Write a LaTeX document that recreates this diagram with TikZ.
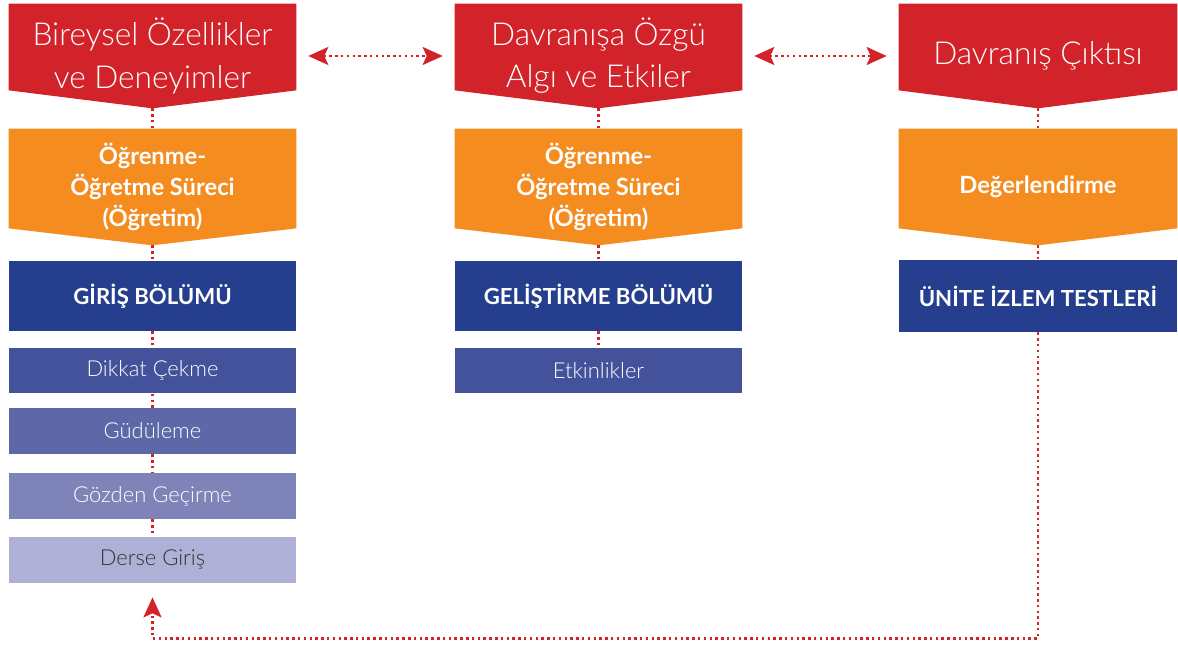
\documentclass[tikz,border=0pt]{standalone}
\usepackage{fontspec}
\setmainfont{Lato}
\newfontfamily\lightfont{Lato Light}
\usetikzlibrary{arrows.meta,backgrounds}
\definecolor{mebred}{HTML}{D2232A}
\definecolor{meborange}{HTML}{F48C20}
\definecolor{mebblue}{HTML}{253F8E}
\definecolor{subone}{HTML}{43529B}
\definecolor{subtwo}{HTML}{5E68A8}
\definecolor{subthree}{HTML}{7F84B8}
\definecolor{subfour}{HTML}{AFB0D5}
\begin{document}
\begin{tikzpicture}[x=0.02cm,y=-0.02cm,>={Stealth[length=0.4cm,width=0.36cm,inset=0.08cm]},
  head/.style={minimum width=5.74cm,minimum height=2.08cm,align=center,text=white,font=\lightfont\fontsize{18}{24}\selectfont},
  proc/.style={minimum width=5.74cm,minimum height=2.32cm,align=center,text=white,font=\bfseries\fontsize{13.5}{17.8}\selectfont},
  part/.style={fill=mebblue,minimum width=5.74cm,minimum height=1.4cm,text=white,font=\bfseries\fontsize{12.6}{14}\selectfont},
  sub/.style={minimum width=5.74cm,minimum height=0.92cm,text=white,font=\lightfont\fontsize{12.5}{14}\selectfont},
  dots/.style={mebred,line width=1.4pt,dash pattern=on 1.4pt off 1.9pt},
  link/.style={dots,<->,shorten <=0.24cm,shorten >=0.24cm}]
\useasboundingbox (0,0) rectangle (1178,645);
\node[head] (bireysel) at (152.5,56) {Bireysel Özellikler\\ve Deneyimler};
\node[head] (davranisa) at (598.5,56) {Davranışa Özgü\\Algı ve Etkiler};
\node[head,minimum width=5.56cm] (cikti) at (1038,56) {Davranış Çıktısı};
\node[proc] (ogr1) at (152.5,187) {Öğrenme-\\Öğretme Süreci\\(Öğretim)};
\node[proc] (ogr2) at (598.5,187) {Öğrenme-\\Öğretme Süreci\\(Öğretim)};
\node[proc,minimum width=5.56cm] (deger) at (1038,187) {Değerlendirme};
\node[part] (giris) at (152.5,296) {GİRİŞ BÖLÜMÜ};
\node[part] (gelis) at (598.5,296) {GELİŞTİRME BÖLÜMÜ};
\node[part,minimum width=5.56cm,minimum height=1.44cm] (unite) at (1038,296) {ÜNİTE İZLEM TESTLERİ};
\node[sub,fill=subone] (dikkat) at (152.5,370.5) {Dikkat Çekme};
\node[sub,fill=subtwo] (gudu) at (152.5,431) {Güdüleme};
\node[sub,fill=subthree] (gozden) at (152.5,496) {Gözden Geçirme};
\node[sub,fill=subfour,text=black!80] (derse) at (152.5,560) {Derse Giriş};
\node[sub,fill=subone] (etkin) at (598.5,370.5) {Etkinlikler};
\begin{scope}[on background layer]
\foreach \n/\c/\d in {bireysel/mebred/0.36cm,davranisa/mebred/0.36cm,cikti/mebred/0.36cm,ogr1/meborange/0.34cm,ogr2/meborange/0.34cm,deger/meborange/0.34cm}
  \fill[\c] (\n.north west) -- (\n.north east) -- ([yshift=\d]\n.south east) -- (\n.south) -- ([yshift=\d]\n.south west) -- cycle;
\end{scope}
\foreach \a/\b in {bireysel/ogr1,ogr1/giris,giris/dikkat,dikkat/gudu,gudu/gozden,gozden/derse,davranisa/ogr2,ogr2/gelis,gelis/etkin,cikti/deger,deger/unite}
  \draw[dots] (\a.south) -- (\b.north);
\draw[link] (bireysel.east) -- (davranisa.west);
\draw[link] (davranisa.east) -- (cikti.west);
\draw[dots,->,shorten >=0.28cm] (unite.south) -- ++(0,306) -| (derse.south);
\end{tikzpicture}
\end{document}
